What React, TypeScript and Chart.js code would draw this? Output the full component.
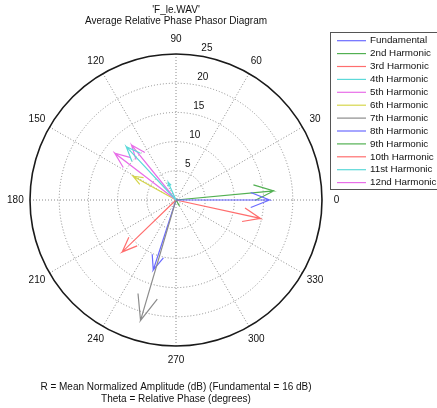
import { useEffect, useRef } from "react";
import { Chart, registerables } from "chart.js";

Chart.register(...registerables);

const harmonics = [
  "Fundamental",
  "2nd Harmonic",
  "3rd Harmonic",
  "4th Harmonic",
  "5th Harmonic",
  "6th Harmonic",
  "7th Harmonic",
  "8th Harmonic",
  "9th Harmonic",
  "10th Harmonic",
  "11st Harmonic",
  "12nd Harmonic",
];
// mean normalized amplitude (dB)
const amplitudes = [16, 16.8, 14.8, 12.5, 13.2, 8.4, 21.5, 12.6, 1.0, 12.8, 3.3, 12.1];
// relative phase (degrees)
const phases = [0, 5.3, 347.7, 133, 142.6, 151, 253.6, 252, 300, 224, 114, 129];

const angleTicks = [0, 30, 60, 90, 120, 150, 180, 210, 240, 270, 300, 330];
const radialTicks = [5, 10, 15, 20, 25];
const rMax = 25;

const titleLines = ["'F_le.WAV'", "Average Relative Phase Phasor Diagram"];
const footerLines = [
  "R = Mean Normalized Amplitude (dB) (Fundamental = 16 dB)",
  "Theta = Relative Phase (degrees)",
];

const seriesColors = [
  "#6b6bff",
  "#52b052",
  "#ff6e6e",
  "#5cd9d9",
  "#e86ee8",
  "#d6d64c",
  "#8c8c8c",
  "#6b6bff",
  "#52b052",
  "#ff6e6e",
  "#5cd9d9",
  "#e86ee8",
];

const FONT = "'Liberation Sans', Arial, Helvetica, sans-serif";

// MATLAB compass arrow shape (unit length along +x)
const arrowShape = [
  [0, 0],
  [1, 0],
  [0.8, 0.08],
  [1, 0],
  [0.8, -0.08],
];

function arrowPoints(r: number, deg: number) {
  const t = (deg * Math.PI) / 180;
  const c = Math.cos(t);
  const s = Math.sin(t);
  return arrowShape.map(([a, b]) => ({
    x: r * (a * c - b * s),
    y: r * (a * s + b * c),
  }));
}

const polarGrid = {
  id: "polarGrid",
  beforeDatasetsDraw(chart: any) {
    const { ctx } = chart;
    const xs = chart.scales.x;
    const ys = chart.scales.y;
    const cx = xs.getPixelForValue(0);
    const cy = ys.getPixelForValue(0);
    const ppu = xs.getPixelForValue(1) - cx;
    const R = rMax * ppu;
    ctx.save();
    ctx.strokeStyle = "#8a8a8a";
    ctx.lineWidth = 1;
    ctx.setLineDash([1, 2]);
    radialTicks.forEach((t) => {
      if (t >= rMax) return;
      ctx.beginPath();
      ctx.arc(cx, cy, t * ppu, 0, Math.PI * 2);
      ctx.stroke();
    });
    angleTicks.forEach((a) => {
      if (a >= 180) return;
      const t = (a * Math.PI) / 180;
      ctx.beginPath();
      ctx.moveTo(cx - R * Math.cos(t), cy + R * Math.sin(t));
      ctx.lineTo(cx + R * Math.cos(t), cy - R * Math.sin(t));
      ctx.stroke();
    });
    ctx.setLineDash([]);
    ctx.strokeStyle = "#1a1a1a";
    ctx.lineWidth = 1.6;
    ctx.beginPath();
    ctx.arc(cx, cy, R, 0, Math.PI * 2);
    ctx.stroke();
    ctx.fillStyle = "#111";
    ctx.font = `10px ${FONT}`;
    ctx.textAlign = "center";
    ctx.textBaseline = "middle";
    angleTicks.forEach((a) => {
      const t = (a * Math.PI) / 180;
      const rr = R * 1.1;
      ctx.fillText(String(a), cx + rr * Math.cos(t), cy - rr * Math.sin(t));
    });
    ctx.textAlign = "left";
    ctx.textBaseline = "bottom";
    const t82 = (82 * Math.PI) / 180;
    radialTicks.forEach((v) => {
      const rr = v * ppu;
      ctx.fillText(String(v), cx + rr * Math.cos(t82) + 5, cy - rr * Math.sin(t82) - 2);
    });
    ctx.restore();
  },
  afterDraw(chart: any) {
    const { ctx } = chart;
    const ds = chart.data.datasets;
    ctx.save();
    ctx.setLineDash([]);
    const boxL = 330.5;
    const boxT = 32.5;
    const rowH = 12.9;
    const boxH = 157;
    ctx.fillStyle = "#ffffff";
    ctx.fillRect(boxL, boxT, 120, boxH);
    ctx.strokeStyle = "#555555";
    ctx.lineWidth = 1;
    ctx.strokeRect(boxL, boxT, 120, boxH);
    ctx.font = `9.8px ${FONT}`;
    ctx.textAlign = "left";
    ctx.textBaseline = "middle";
    ds.forEach((d: any, i: number) => {
      const y = 40.7 + i * rowH;
      ctx.lineWidth = 1.2;
      ctx.strokeStyle = seriesColors[i];
      ctx.beginPath();
      ctx.moveTo(337, y);
      ctx.lineTo(366, y);
      ctx.stroke();
      ctx.fillStyle = "#111111";
      ctx.fillText(d.label, 370, y);
    });
    ctx.restore();
  },
};

export default function App() {
  const ref = useRef<HTMLCanvasElement | null>(null);
  useEffect(() => {
    if (!ref.current) return;
    const datasets = harmonics.map((name, i) => ({
      label: name,
      data: arrowPoints(amplitudes[i], phases[i]),
      borderColor: seriesColors[i],
      backgroundColor: seriesColors[i],
      borderWidth: 1.2,
      showLine: true,
      pointRadius: 0,
      fill: false,
      tension: 0,
    }));
    const chart = new Chart(ref.current, {
      type: "scatter",
      data: { datasets },
      options: {
        animation: false,
        responsive: false,
        devicePixelRatio: 1,
        events: [],
        layout: { padding: { left: 30, right: 115, top: 0, bottom: 0 } },
        scales: {
          x: { type: "linear", min: -rMax, max: rMax, display: false },
          y: { type: "linear", min: -rMax, max: rMax, display: false },
        },
        plugins: {
          legend: { display: false },
          tooltip: { enabled: false },
          title: {
            display: true,
            text: titleLines,
            color: "#111",
            font: { family: FONT, size: 10, weight: "normal", lineHeight: 1.17 },
            padding: { top: 4.15, bottom: 26.45 },
          },
          subtitle: {
            display: true,
            position: "bottom",
            text: footerLines,
            color: "#111",
            font: { family: FONT, size: 10, weight: "normal", lineHeight: 1.13 },
            padding: { top: 36.05, bottom: 3.35 },
          },
        },
      },
      plugins: [polarGrid],
    } as any);
    return () => chart.destroy();
  }, []);
  return (
    <div style={{ position: "fixed", left: 0, top: 0, width: 437, height: 408, background: "#fff" }}>
      <canvas ref={ref} width={437} height={408} />
    </div>
  );
}
